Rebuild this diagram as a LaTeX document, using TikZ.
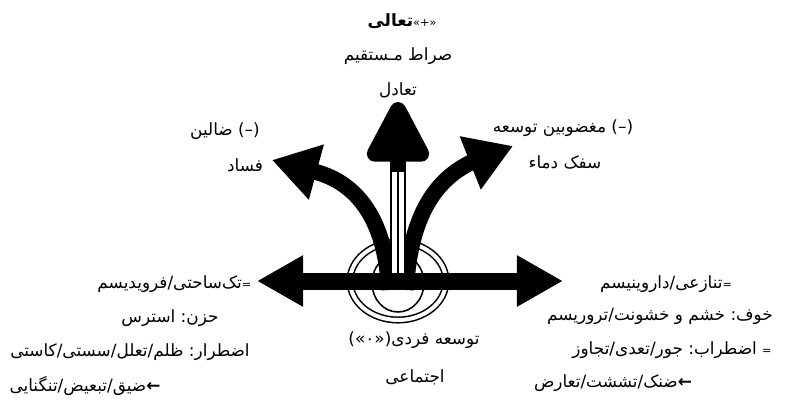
\documentclass[tikz,border=0pt]{standalone}
\usepackage{fontspec}
\newfontfamily\fafont[Script=Arabic]{DejaVu Sans}
\usetikzlibrary{arrows.meta}
\TeXXeTstate=1
\newcommand{\punc}[1]{\hbox{#1}}

\begin{document}
\begin{tikzpicture}[
  x=0.025cm, y=-0.025cm,
  lbl/.style={font=\fafont\fontsize{12}{14}\selectfont, inner sep=1pt},
  ring/.style={line width=1.1pt},
  bigarr/.style={line width=0.4cm, -{Triangle[length=1.15cm, width=1.35cm]}},
  twoway/.style={line width=0.425cm, {Triangle[length=1.15cm, width=1.2cm]}-{Triangle[length=1.15cm, width=1.2cm]}},
  uparr/.style={line width=0.4cm, -{Triangle[length=1.75cm, width=1.7cm, round]}}
]
  \useasboundingbox (0,0) rectangle (796,403);
  % centre and arrow ends
  \coordinate (c) at (398,281);
  \coordinate (cl) at (389,290);
  \coordinate (cr) at (406,290);
  \coordinate (up) at (398,102);
  \coordinate (upb) at (398,172);
  \coordinate (lb) at (316,172);
  \coordinate (lt) at (272,160);
  \coordinate (rb) at (470,163);
  \coordinate (rt) at (513,146);
  \coordinate (wl) at (257,281);
  \coordinate (el) at (563,281);

  % rings
  \draw[ring, double, double distance=0.1cm] (c) ellipse (48 and 39);
  \draw[ring] (398,283) ellipse (26 and 29);

  % curved arrows
  \draw[bigarr] (cl) .. controls (385,205) and (345,180) .. (lb) -- (lt);
  \draw[bigarr] (cr) .. controls (410,210) and (440,178) .. (rb) -- (rt);

  % upward arrow, triple shaft
  \draw[uparr] (c) -- (up);
  \draw[white, line width=0.28cm] (c) -- (upb);
  \draw[line width=1.8pt] (c) -- (upb);

  % two-way arrow
  \draw[twoway] (wl) -- (el);

  % labels top
  \node[lbl] (tt) at (402,21) {\beginR\punc{\footnotesize «+»}{\bfseries تعالی}\endR};
  \node[lbl] (ts) at (398,56) {\beginR صراط مـستقیم\endR};
  \node[lbl] (te) at (398,90) {\beginR تعادل\endR};

  \node[lbl] (lz) at (225,131) {\beginR\punc{(–)} ضالین\endR};
  \node[lbl] (lf) at (245,165) {\beginR فساد\endR};
  \node[lbl] (rm) at (563,128) {\beginR\punc{(–)} مغضوبین توسعه\endR};
  \node[lbl] (rs) at (565,162) {\beginR سفک دماء\endR};

  % labels left
  \node[lbl, anchor=east] (l1) at (253,284) {\beginR\punc{\footnotesize=}تک^^^^200cساحتی\punc{/}فرویدیسم\endR};
  \node[lbl] (l2) at (170,318) {\beginR حزن\punc{:} استرس\endR};
  \node[lbl] (l3) at (130,352) {\beginR اضطرار\punc{:} ظلم\punc{/}تعلل\punc{/}سستی\punc{/}کاستی\endR};
  \node[lbl] (l4) at (85,386) {\beginR\punc{\bfseries ←}ضیق\punc{/}تبعیض\punc{/}تنگنایی\endR};

  % labels right
  \node[lbl] (r1) at (666,284) {\beginR\punc{\footnotesize=}تنازعی\punc{/}داروینیسم\endR};
  \node[lbl] (r2) at (660,316) {\beginR خوف\punc{:} خشم و خشونت\punc{/}تروریسم\endR};
  \node[lbl] (r3) at (672,350) {\beginR\punc{\footnotesize=} اضطراب\punc{:} جور\punc{/}تعدی\punc{/}تجاوز\endR};
  \node[lbl] (r4) at (613,383) {\beginR\punc{\bfseries ←}ضنک\punc{/}تششت\punc{/}تعارض\endR};

  % labels bottom
  \node[lbl] (bf) at (414,340) {\beginR توسعه فردی\punc{(«۰»)}\endR};
  \node[lbl] (bs) at (415,377) {\beginR اجتماعی\endR};
\end{tikzpicture}
\end{document}
